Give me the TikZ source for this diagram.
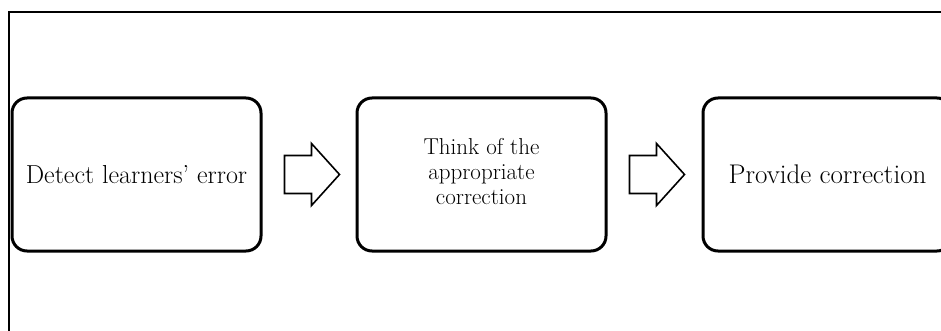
\documentclass[tikz,border=0pt]{standalone}
\usepackage{fontspec}
\usepackage{tikz}
\usetikzlibrary{calc,positioning}

\begin{document}
\begin{tikzpicture}[x=1pt,y=1pt,
  stepbox/.style={draw,line width=3pt,rounded corners=15pt,
    minimum width=249pt,minimum height=153pt,align=center,inner sep=0pt},
  blockarrow/.style={draw,line width=1.6pt,fill=white}]
\useasboundingbox (0,0) rectangle (941,-331);
% outer frame (only left and top show)
\draw[line width=1.5pt] (9,-340) -- (9,-12) -- (950,-12);

\node[stepbox,font=\fontsize{26}{28}\selectfont] (detect) at (136.5,-174.5) {Detect learners' error};
\node[stepbox,font=\fontsize{23}{25}\selectfont,right=93pt of detect] (think)
  {\raisebox{6pt}{\begin{tabular}{@{}c@{}}Think of the\\appropriate\\correction\end{tabular}}};
\node[stepbox,font=\fontsize{27}{29}\selectfont,right=94pt of think] (provide) {\raisebox{-5pt}{Provide correction}};

% hollow block arrows between the boxes
\foreach \a/\b in {detect/think,think/provide}{
  \coordinate (s) at ($(\a.east)+(22,0)$);
  \draw[blockarrow] ($(s)+(0,19)$) -- ++(27,0) -- ++(0,12) -- ($(s)+(55,0)$)
    -- ($(s)+(27,-31)$) -- ++(0,12) -- ($(s)+(0,-19)$) -- cycle;
}
\end{tikzpicture}
\end{document}
